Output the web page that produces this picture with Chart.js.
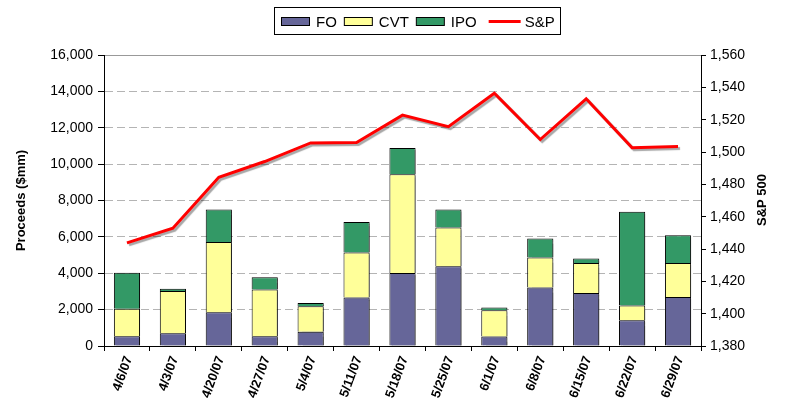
<!DOCTYPE html>
<html>
<head>
<meta charset="utf-8">
<script src="https://cdn.jsdelivr.net/npm/chart.js@4/dist/chart.umd.min.js"></script>
<style>
html, body { margin: 0; padding: 0; background: #fff; }
#wrap { width: 788px; height: 413px; }
</style>
</head>
<body>
<div id="wrap"><canvas id="proceedsChart" width="788" height="413"></canvas></div>
<script>
// 週ごとの調達額（$mm）とS&P 500

const weeks = ['4/6/07', '4/3/07', '4/20/07', '4/27/07', '5/4/07', '5/11/07', '5/18/07',
  '5/25/07', '6/1/07', '6/8/07', '6/15/07', '6/22/07', '6/29/07'];

const foValues = [540, 700, 1860, 540, 780, 2670, 4010, 4380, 520, 3210, 2910, 1410, 2690];
const cvtValues = [1510, 2320, 3860, 2560, 1400, 2470, 5440, 2140, 1440, 1650, 1650, 820, 1870];
const ipoValues = [1980, 130, 1790, 680, 180, 1680, 1440, 990, 150, 1050, 250, 5150, 1530];
const spValues = [1443.8, 1452.9, 1484.4, 1494.1, 1505.6, 1505.9, 1522.8, 1515.7, 1536.3,
  1507.7, 1532.9, 1502.6, 1503.4];

const seriesNames = ['FO', 'CVT', 'IPO', 'S&P'];
const leftTitle = 'Proceeds ($mm)';
const rightTitle = 'S&P 500';

const FONT = "'Liberation Sans', Arial, sans-serif";

// 凡例・右軸タイトル・影
const extras = {
  id: 'extras',
  beforeDatasetsDraw(chart) {
    const c = chart.ctx;
    c.save();
    c.shadowColor = 'rgba(0,0,0,0.35)';
    c.shadowOffsetX = 2;
    c.shadowOffsetY = 2;
    c.shadowBlur = 1;
  },
  afterDatasetsDraw(chart) {
    chart.ctx.restore();
  },
  afterDraw(chart) {
    const c = chart.ctx;
    // 凡例の枠
    c.save();
    c.fillStyle = '#fff';
    c.strokeStyle = '#000';
    c.lineWidth = 1;
    c.fillRect(274.5, 7.5, 286, 27);
    c.strokeRect(274.5, 7.5, 286, 27);

    c.font = '15px ' + FONT;
    c.textBaseline = 'middle';
    c.fillStyle = '#000';
    let x = 281;
    const midY = 21.5;
    chart.data.datasets.forEach(ds => {
      if (ds.type === 'line') {
        c.strokeStyle = ds.borderColor;
        c.lineWidth = 3;
        c.beginPath();
        c.moveTo(x + 5, midY);
        c.lineTo(x + 37, midY);
        c.stroke();
        x += 41;
      } else {
        c.fillStyle = ds.backgroundColor;
        c.fillRect(x + 0.5, 17.5, 28, 8);
        c.strokeStyle = '#000';
        c.lineWidth = 1;
        c.strokeRect(x + 0.5, 17.5, 28, 8);
        x += 35;
      }
      c.fillStyle = '#000';
      c.fillText(ds.label, x, midY + 1);
      x += c.measureText(ds.label).width + 7;
    });

    // 右軸タイトル
    c.translate(762, 200);
    c.rotate(-Math.PI / 2);
    c.font = 'bold 13px ' + FONT;
    c.textAlign = 'center';
    c.fillText(rightTitle, 0, 0);
    c.restore();
  }
};

new Chart(document.getElementById('proceedsChart'), {
  data: {
    labels: weeks,
    datasets: [
      {
        type: 'bar',
        label: seriesNames[0],
        data: foValues,
        backgroundColor: '#666699',
        borderColor: '#000',
        borderWidth: 1,
        yAxisID: 'y',
        order: 1
      },
      {
        type: 'bar',
        label: seriesNames[1],
        data: cvtValues,
        backgroundColor: '#FFFF99',
        borderColor: '#000',
        borderWidth: 1,
        yAxisID: 'y',
        order: 1
      },
      {
        type: 'bar',
        label: seriesNames[2],
        data: ipoValues,
        backgroundColor: '#339966',
        borderColor: '#000',
        borderWidth: 1,
        yAxisID: 'y',
        order: 1
      },
      {
        type: 'line',
        label: seriesNames[3],
        data: spValues,
        borderColor: '#FF0000',
        backgroundColor: '#FF0000',
        borderWidth: 3,
        pointRadius: 0,
        tension: 0,
        fill: false,
        yAxisID: 'y1',
        order: 0
      }
    ]
  },
  options: {
    responsive: false,
    animation: false,
    devicePixelRatio: 1,
    layout: { padding: { top: 55, left: 0, right: 0, bottom: 0 } },
    datasets: {
      bar: { categoryPercentage: 1, barPercentage: 0.57 }
    },
    plugins: {
      legend: { display: false },
      tooltip: { enabled: false }
    },
    scales: {
      x: {
        stacked: true,
        offset: true,
        grid: {
          offset: true,
          drawOnChartArea: false,
          tickLength: 5,
          tickColor: '#000'
        },
        border: { color: '#000', width: 1 },
        ticks: {
          color: '#000',
          font: { family: FONT, size: 13, weight: 'bold' },
          minRotation: 70,
          maxRotation: 70,
          autoSkip: false,
          padding: 3,
          labelOffset: 2
        },
        afterFit(scale) { scale.height = 67; }
      },
      x2: {
        type: 'category',
        labels: weeks,
        position: 'top',
        grid: { display: false, drawTicks: false },
        ticks: { display: false },
        border: { display: true, color: '#999', width: 1 },
        afterFit(scale) { scale.height = 0; }
      },
      y: {
        stacked: true,
        position: 'left',
        min: 0,
        max: 16000,
        ticks: {
          stepSize: 2000,
          color: '#000',
          font: { family: FONT, size: 14 },
          padding: 5
        },
        grid: {
          color: '#b4b4b4',
          tickColor: '#000',
          tickLength: 6,
          borderDash: [8, 4]
        },
        border: { color: '#000', width: 1, dash: [8, 4], dashOffset: 0 },
        title: {
          display: true,
          text: leftTitle,
          color: '#000',
          font: { family: FONT, size: 13, weight: 'bold' },
          padding: { top: 14, bottom: 0 }
        },
        afterFit(scale) { scale.width = 104; }
      },
      y1: {
        position: 'right',
        min: 1380,
        max: 1560,
        ticks: {
          stepSize: 20,
          color: '#000',
          font: { family: FONT, size: 14 },
          padding: 4
        },
        grid: {
          drawOnChartArea: false,
          tickColor: '#000',
          tickLength: 5
        },
        border: { color: '#000', width: 1 },
        afterFit(scale) { scale.width = 87; }
      }
    }
  },
  plugins: [extras]
});
</script>
</body>
</html>
